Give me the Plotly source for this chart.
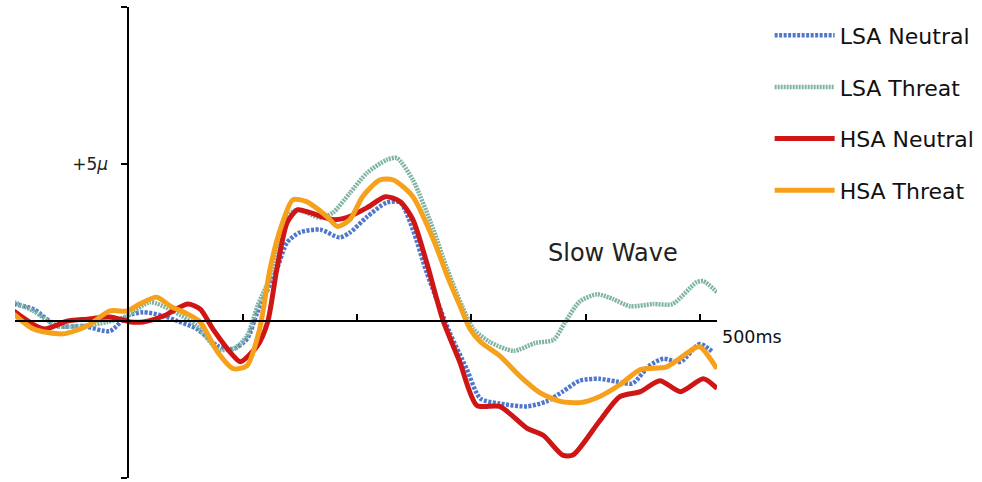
import plotly.graph_objects as go

# ---- data (time in ms, amplitude in microvolts) ----
lsa_neutral_t = [-100, -83, -62, -39, -16, -1, 13, 31, 43, 60, 78, 92, 104, 113, 130, 139, 150, 168, 185, 194,
                 209, 226, 238, 249, 261, 281, 296, 308, 325, 349, 366, 380, 395, 412, 427, 441, 456, 468, 483,
                 500, 511]
lsa_neutral_v = [0.54, 0.38, -0.16, -0.16, -0.32, 0.16, 0.28, 0.16, 0.0, -0.25, -0.79, -0.89, -0.57, 0.28, 1.65,
                 2.50, 2.82, 2.91, 2.66, 2.82, 3.32, 3.77, 3.77, 2.91, 1.55, -0.35, -1.52, -2.47, -2.63, -2.72,
                 -2.56, -2.25, -1.90, -1.84, -1.93, -1.99, -1.42, -1.20, -1.30, -0.73, -0.98]

lsa_threat_t = [-100, -83, -62, -39, -18, -1, 19, 39, 60, 78, 92, 104, 113, 127, 139, 148, 168, 179, 194, 209,
                226, 235, 249, 267, 279, 302, 316, 337, 356, 372, 382, 395, 410, 424, 439, 459, 476, 497, 503, 515]
lsa_threat_v = [0.60, 0.32, -0.16, -0.16, -0.03, 0.16, 0.60, 0.32, -0.16, -0.89, -0.89, -0.47, 0.47, 1.65, 3.32,
                3.54, 3.29, 3.45, 4.08, 4.72, 5.13, 5.19, 4.49, 2.91, 1.65, -0.25, -0.66, -0.95, -0.70, -0.60,
                -0.05, 0.62, 0.85, 0.70, 0.47, 0.54, 0.54, 1.23, 1.27, 0.92]

hsa_neutral_t = [-100, -74, -53, -36, -16, 2, 13, 31, 52, 63, 74, 92, 98, 113, 122, 130, 139, 148, 159, 179, 191,
                 209, 225, 238, 249, 261, 275, 290, 305, 325, 349, 363, 380, 389, 412, 430, 448, 465, 483, 503, 515]
hsa_neutral_v = [0.32, -0.25, 0.0, 0.06, 0.13, -0.03, -0.03, 0.16, 0.54, 0.38, -0.25, -1.11, -1.30, -0.79, -0.03,
                 1.65, 3.13, 3.54, 3.45, 3.23, 3.29, 3.61, 3.96, 3.80, 3.23, 1.87, 0.06, -1.30, -2.69, -2.72,
                 -3.42, -3.64, -4.27, -4.27, -3.20, -2.41, -2.25, -1.90, -2.25, -1.84, -2.15]

hsa_threat_t = [-100, -83, -57, -36, -16, -1, 10, 25, 37, 52, 63, 78, 92, 104, 115, 124, 133, 144, 156, 174, 183,
                194, 205, 220, 232, 249, 267, 280, 290, 299, 308, 325, 343, 360, 378, 395, 412, 430, 448, 471,
                494, 500, 515]
hsa_threat_v = [0.22, -0.25, -0.41, -0.16, 0.32, 0.32, 0.54, 0.76, 0.47, 0.22, -0.03, -0.98, -1.52, -1.42, -0.25,
                1.65, 2.91, 3.86, 3.80, 3.32, 3.01, 3.23, 3.96, 4.49, 4.49, 3.96, 2.59, 1.35, 0.50, -0.25, -0.66,
                -1.11, -1.77, -2.28, -2.56, -2.60, -2.41, -2.03, -1.55, -1.46, -0.89, -0.82, -1.52]

series_names = ["LSA Neutral", "LSA Threat", "HSA Neutral", "HSA Threat"]
x_ticks = [-100, 0, 100, 200, 300, 400, 500]
y_ticks = [-5, 5, 10]
y_tick_text = ["", "+5<i>\u03bc</i>", ""]

x_range = [-99, 515]
y_range = [-5, 10]

fig = go.Figure()
styles = [
    dict(color="#4f78cc", width=4.5, dash="3px,1.5px"),
    dict(color="#7fb3a3", width=4.5, dash="2px,1px"),
    dict(color="#cf1616", width=5),
    dict(color="#f5a11c", width=5),
]
data = [(lsa_neutral_t, lsa_neutral_v), (lsa_threat_t, lsa_threat_v),
        (hsa_neutral_t, hsa_neutral_v), (hsa_threat_t, hsa_threat_v)]
for i, (name, (t, v)) in enumerate(zip(series_names, data)):
    fig.add_trace(go.Scatter(x=t, y=v, mode="lines", name=name, legendgroup=name,
                             line=dict(shape="spline", smoothing=0.7, **styles[i])))

fig.update_layout(
    width=982, height=482,
    margin=dict(l=15, r=265, t=7, b=4, autoexpand=False),
    paper_bgcolor="white", plot_bgcolor="white",
    font=dict(family="DejaVu Sans", color="#111111"),
    showlegend=True,
    legend=dict(x=1.075, y=0.984, xanchor="left", yanchor="top",
                font=dict(size=22, family="DejaVu Sans", color="#111111"),
                tracegroupgap=20, itemwidth=60, bgcolor="rgba(0,0,0,0)"),
    xaxis=dict(range=x_range, showgrid=False, zeroline=False, showline=True,
               linecolor="black", linewidth=1.5, anchor="free", automargin=False,
               position=(0 - y_range[0]) / (y_range[1] - y_range[0]),
               tickvals=x_ticks, ticks="inside", ticklen=6, tickwidth=1.5,
               tickcolor="black", showticklabels=False),
    yaxis=dict(range=y_range, showgrid=False, zeroline=False, showline=True,
               linecolor="black", linewidth=1.5, anchor="free", automargin=False,
               position=(0 - x_range[0]) / (x_range[1] - x_range[0]),
               tickvals=y_ticks, ticktext=y_tick_text, ticks="outside", ticklen=6,
               tickwidth=1.5, tickcolor="black", ticklabelstandoff=10,
               tickfont=dict(size=17, family="DejaVu Sans", color="#222222")),
    annotations=[
        dict(x=500, y=0, xref="x", yref="y", text="500ms", showarrow=False,
             xanchor="left", yanchor="middle", xshift=20, yshift=-16,
             font=dict(size=17.5, family="DejaVu Sans", color="#111111")),
        dict(x=424, y=2.15, xref="x", yref="y", text="Slow Wave", showarrow=False,
             xanchor="center", yanchor="middle",
             font=dict(size=24, family="DejaVu Sans", color="#222222")),
    ],
)

fig.write_html("out.html", config={"displayModeBar": False},
               post_script="document.body.style.margin='0';")
